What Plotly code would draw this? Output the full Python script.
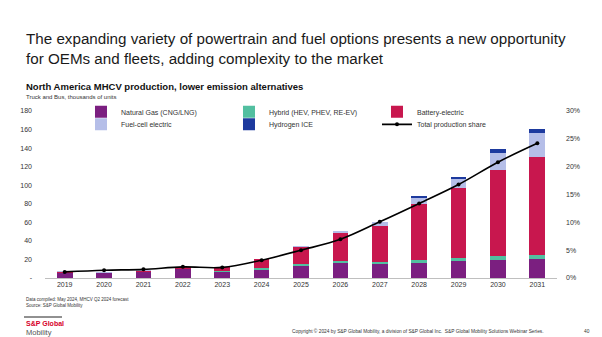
import plotly.graph_objects as go

years = ["2019", "2020", "2021", "2022", "2023", "2024", "2025", "2026", "2027", "2028", "2029", "2030", "2031"]
natural_gas = [6.0, 5.5, 7.0, 10.0, 7.0, 9.5, 13.5, 16.5, 15.5, 16.5, 18.0, 19.0, 20.0]
hybrid = [0.3, 0.2, 0.3, 0.3, 0.5, 1.0, 1.5, 1.8, 2.0, 3.0, 4.0, 5.0, 4.5]
battery_electric = [0.5, 0.5, 0.8, 0.9, 4.0, 10.5, 19.0, 30.5, 39.0, 60.0, 75.0, 92.0, 106.0]
fuel_cell = [0.4, 0.2, 0.2, 0.0, 0.0, 0.0, 0.3, 1.5, 3.5, 7.5, 10.0, 19.0, 25.5]
hydrogen_ice = [0.0, 0.0, 0.0, 0.0, 0.0, 0.0, 0.0, 0.0, 0.0, 0.5, 2.2, 4.0, 5.0]
total_share = [0.011, 0.014, 0.0155, 0.020, 0.019, 0.032, 0.050, 0.0695, 0.101, 0.134, 0.168, 0.208, 0.242]

left_tickvals = [0, 20, 40, 60, 80, 100, 120, 140, 160, 180]
left_ticktext = ["-", "20", "40", "60", "80", "100", "120", "140", "160", "180"]

FONT = "Liberation Sans, Arial, sans-serif"

fig = go.Figure()
bar_series = [
    ("Natural Gas (CNG/LNG)", natural_gas, "#7B1F80", "legend"),
    ("Hybrid (HEV, PHEV, RE-EV)", hybrid, "#52BFA0", "legend"),
    ("Battery-electric", battery_electric, "#C8174E", "legend"),
    ("Fuel-cell electric", fuel_cell, "#B5BEE8", "legend2"),
    ("Hydrogen ICE", hydrogen_ice, "#1D3A9E", "legend2"),
]
for name, vals, col, lg in bar_series:
    fig.add_trace(go.Bar(x=years, y=vals, name=name, marker=dict(color=col, line=dict(width=0)),
                         legend=lg, width=0.4))

fig.add_trace(go.Scatter(x=years, y=total_share, name="Total production share", yaxis="y2",
                         mode="lines+markers", line=dict(color="#000000", width=1.6, shape="spline"),
                         marker=dict(color="#000000", size=4), legend="legend2"))

legend_common = dict(orientation="h", font=dict(family=FONT, size=7, color="#333333"),
                     bgcolor="rgba(0,0,0,0)", entrywidth=103, entrywidthmode="pixels",
                     itemwidth=30, xanchor="left", yanchor="middle", traceorder="normal")

fig.update_layout(
    width=602, height=337,
    margin=dict(l=45, r=45, t=111, b=59),
    paper_bgcolor="white", plot_bgcolor="white",
    barmode="stack",
    bargap=0.6,
    font=dict(family=FONT, size=7, color="#333333"),
    xaxis=dict(type="category", showgrid=False, showline=True, linecolor="#BFBFBF", linewidth=1,
               ticks="", tickfont=dict(size=7, color="#333333"), range=[-0.5, 12.5]),
    yaxis=dict(range=[0, 180], tickvals=left_tickvals, ticktext=left_ticktext, showgrid=False,
               zeroline=False, showline=False, tickfont=dict(size=7, color="#333333"),
               ticklabelstandoff=12),
    yaxis2=dict(range=[0, 0.30], overlaying="y", side="right", tickformat=".0%", dtick=0.05,
                showgrid=False, zeroline=False, showline=False,
                tickfont=dict(size=7, color="#333333"), ticklabelstandoff=8),
    legend=dict(**legend_common, x=0.0703, y=0.995),
    legend2=dict(**legend_common, x=0.0703, y=0.92),
    showlegend=True,
)

anns = [
    dict(text="The expanding variety of powertrain and fuel options presents a new opportunity<br>for OEMs and fleets, adding complexity to the market",
         x=24, y=48, size=15.2, color="#1a1a1a"),
    dict(text="<b>North America MHCV production, lower emission alternatives</b>", x=24, y=86, size=9.5, color="#111111"),
    dict(text="Truck and Bus, thousands of units", x=24, y=97, size=6, color="#333333"),
    dict(text="Data compiled: May 2024, MHCV Q2 2024 forecast", x=24, y=299, size=4.5, color="#333333"),
    dict(text="Source: S&P Global Mobility", x=24, y=305, size=4.5, color="#333333"),
    dict(text="<b>S&P Global</b>", x=24, y=323, size=7, color="#D6002A"),
    dict(text="Mobility", x=24, y=332, size=7.5, color="#555555"),
    dict(text="Copyright © 2024 by S&P Global Mobility, a division of S&P Global Inc.  S&P Global Mobility Solutions Webinar Series.",
         x=290, y=331, size=4.8, color="#333333"),
    dict(text="40", x=582, y=331, size=4.8, color="#333333"),
]
for a in anns:
    fig.add_annotation(text=a["text"], xref="paper", yref="paper",
                       x=(a["x"] - 45) / 512, y=(278 - a["y"]) / 167,
                       xanchor="left", yanchor="middle", showarrow=False, align="left",
                       font=dict(family=FONT, size=a["size"], color=a["color"]))

fig.add_shape(type="line", xref="paper", yref="paper",
              x0=(24 - 45) / 512, x1=(62 - 45) / 512, y0=(278 - 317) / 167, y1=(278 - 317) / 167,
              line=dict(color="#222222", width=1))

fig.write_html("out.html")
